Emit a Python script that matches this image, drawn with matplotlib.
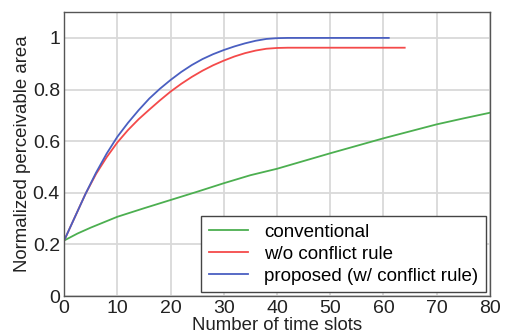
import matplotlib
matplotlib.use("Agg")
import matplotlib.pyplot as plt
from matplotlib.ticker import FuncFormatter

plt.rcParams['font.family'] = ['Liberation Sans', 'DejaVu Sans']

# Data
x_conv = [0, 2.5, 5, 10, 15, 20, 25, 30, 35, 40, 45, 50, 55, 60, 65, 70, 75, 80]
y_conv = [0.215, 0.242, 0.265, 0.307, 0.34, 0.372, 0.404, 0.437, 0.468, 0.493,
          0.523, 0.553, 0.582, 0.611, 0.638, 0.665, 0.688, 0.71]

x_wo = [0, 2, 4, 6, 8, 10, 12, 14, 16, 18, 20, 22, 24, 26, 28, 30, 32, 34, 36, 38, 40, 42, 64]
y_wo = [0.215, 0.305, 0.395, 0.473, 0.538, 0.595, 0.643, 0.685, 0.722, 0.758, 0.792,
        0.822, 0.849, 0.873, 0.894, 0.912, 0.928, 0.941, 0.951, 0.958, 0.961, 0.962, 0.962]

x_prop = [0, 2, 4, 6, 8, 10, 12, 14, 16, 18, 20, 22, 24, 26, 28, 30, 32, 34, 36, 38, 40, 42, 61]
y_prop = [0.215, 0.305, 0.395, 0.478, 0.552, 0.617, 0.671, 0.72, 0.765, 0.803, 0.837,
          0.868, 0.895, 0.918, 0.937, 0.953, 0.967, 0.979, 0.989, 0.996, 0.999, 1.0, 1.0]

labels = ["conventional", "w/o conflict rule", "proposed (w/ conflict rule)"]
x_ticks = [0, 10, 20, 30, 40, 50, 60, 70, 80]
y_ticks = [0, 0.2, 0.4, 0.6, 0.8, 1.0]

fig = plt.figure(figsize=(5.05, 3.36), dpi=100)
ax = fig.add_axes([0.127, 0.119, 0.843, 0.845])

ax.plot(x_conv, y_conv, color='#4caf50', lw=1.3, label=labels[0])
ax.plot(x_wo, y_wo, color='#f44a4a', lw=1.3, label=labels[1])
ax.plot(x_prop, y_prop, color='#4a5fc1', lw=1.3, label=labels[2])

ax.set_xlim(0, 80)
ax.set_ylim(0, 1.1)
ax.set_xticks(x_ticks)
ax.set_yticks(y_ticks)
ax.yaxis.set_major_formatter(FuncFormatter(lambda v, p: f"{v:g}"))
ax.grid(True, color='#d9d9d9', lw=1.3)
ax.set_axisbelow(True)
ax.tick_params(length=0, labelsize=14, colors='#222222')
ax.tick_params(axis='x', pad=3)
ax.tick_params(axis='y', pad=3)
for s in ax.spines.values():
    s.set_color('#555555')
    s.set_linewidth(1.0)

ax.set_xlabel("Number of time slots", fontsize=13.4, labelpad=0, color='#222222')
ax.set_ylabel("Normalized perceivable area", fontsize=13.4, labelpad=1, color='#222222')

leg = ax.legend(loc='lower right', fontsize=13.5, frameon=True, fancybox=False,
                edgecolor='#444444', framealpha=1, borderpad=0.4,
                handlelength=2.1, handletextpad=0.85, labelspacing=0.25,
                borderaxespad=0, bbox_to_anchor=(0.99, 0.014))
leg.get_frame().set_linewidth(1.0)

fig.savefig("out.png", dpi=100)
